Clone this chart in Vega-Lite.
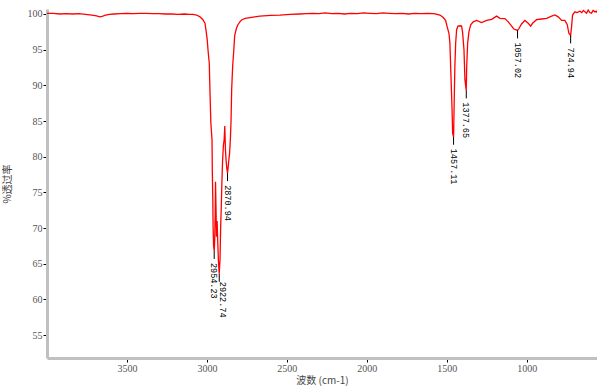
{
  "$schema": "https://vega.github.io/schema/vega-lite/v6.json",
  "width": 550,
  "height": 349,
  "autosize": {"type": "none"},
  "padding": {"left": 47, "top": 9, "right": 0, "bottom": 29},
  "config": {
    "view": {"stroke": null},
    "axis": {
      "grid": false,
      "domainColor": "#c0c0c0",
      "domainWidth": 3,
      "tickColor": "#000000",
      "tickWidth": 1,
      "labelFont": "Liberation Serif",
      "labelFontSize": 10,
      "labelColor": "#555555",
      "labelOverlap": false,
      "titleFont": "Noto Sans CJK SC",
      "titleFontSize": 10,
      "titleFontWeight": "normal",
      "titleColor": "#444444"
    }
  },
  "datasets": {
    "spectrum": [
      {"wn": 4000, "T": 100.1}, {"wn": 3960, "T": 100.1}, {"wn": 3920, "T": 100.0}, {"wn": 3880, "T": 100.05},
      {"wn": 3840, "T": 100.0}, {"wn": 3800, "T": 100.05}, {"wn": 3760, "T": 99.95}, {"wn": 3720, "T": 99.85},
      {"wn": 3690, "T": 99.75}, {"wn": 3670, "T": 99.6}, {"wn": 3655, "T": 99.65}, {"wn": 3640, "T": 99.8},
      {"wn": 3610, "T": 99.95}, {"wn": 3580, "T": 100.0}, {"wn": 3540, "T": 100.05}, {"wn": 3500, "T": 100.1},
      {"wn": 3460, "T": 100.05}, {"wn": 3420, "T": 100.1}, {"wn": 3380, "T": 100.1}, {"wn": 3340, "T": 100.05},
      {"wn": 3300, "T": 100.05}, {"wn": 3260, "T": 100.0}, {"wn": 3220, "T": 100.0}, {"wn": 3180, "T": 99.95},
      {"wn": 3140, "T": 100.0}, {"wn": 3110, "T": 99.95}, {"wn": 3087, "T": 99.96}, {"wn": 3064, "T": 99.86},
      {"wn": 3043, "T": 99.6}, {"wn": 3025, "T": 99.2}, {"wn": 3012, "T": 98.7}, {"wn": 3006, "T": 97.8},
      {"wn": 2998, "T": 96.4}, {"wn": 2992, "T": 94.7}, {"wn": 2985, "T": 93.1}, {"wn": 2981, "T": 89.4},
      {"wn": 2975, "T": 84.7}, {"wn": 2968, "T": 82.4}, {"wn": 2966, "T": 78.0}, {"wn": 2963, "T": 74.0},
      {"wn": 2961, "T": 70.0}, {"wn": 2958, "T": 67.5}, {"wn": 2954, "T": 66.8}, {"wn": 2951, "T": 68.5},
      {"wn": 2948, "T": 72.0}, {"wn": 2946, "T": 76.5}, {"wn": 2943, "T": 73.0}, {"wn": 2940, "T": 68.8},
      {"wn": 2936, "T": 71.0}, {"wn": 2932, "T": 68.0}, {"wn": 2928, "T": 65.5}, {"wn": 2923, "T": 63.6},
      {"wn": 2918, "T": 65.5}, {"wn": 2914, "T": 70.0}, {"wn": 2910, "T": 73.0}, {"wn": 2906, "T": 76.5},
      {"wn": 2902, "T": 79.3}, {"wn": 2897, "T": 81.5}, {"wn": 2892, "T": 82.4}, {"wn": 2888, "T": 84.3},
      {"wn": 2884, "T": 81.0}, {"wn": 2880, "T": 79.5}, {"wn": 2876, "T": 78.5}, {"wn": 2871, "T": 77.7},
      {"wn": 2867, "T": 78.5}, {"wn": 2863, "T": 79.5}, {"wn": 2858, "T": 80.5}, {"wn": 2853, "T": 82.5},
      {"wn": 2849, "T": 85.0}, {"wn": 2845, "T": 89.4}, {"wn": 2839, "T": 92.6}, {"wn": 2833, "T": 94.5},
      {"wn": 2826, "T": 97.0}, {"wn": 2815, "T": 98.0}, {"wn": 2806, "T": 98.5}, {"wn": 2790, "T": 99.0},
      {"wn": 2781, "T": 99.2}, {"wn": 2760, "T": 99.4}, {"wn": 2731, "T": 99.5}, {"wn": 2700, "T": 99.6},
      {"wn": 2669, "T": 99.7}, {"wn": 2600, "T": 99.8}, {"wn": 2544, "T": 99.85}, {"wn": 2480, "T": 99.95},
      {"wn": 2419, "T": 100.0}, {"wn": 2380, "T": 100.05}, {"wn": 2340, "T": 100.1}, {"wn": 2300, "T": 100.05},
      {"wn": 2260, "T": 100.15}, {"wn": 2220, "T": 100.05}, {"wn": 2180, "T": 100.1}, {"wn": 2140, "T": 100.0},
      {"wn": 2100, "T": 100.1}, {"wn": 2060, "T": 100.05}, {"wn": 2020, "T": 100.15}, {"wn": 1980, "T": 100.1},
      {"wn": 1940, "T": 100.05}, {"wn": 1900, "T": 100.15}, {"wn": 1860, "T": 100.1}, {"wn": 1820, "T": 100.05},
      {"wn": 1780, "T": 100.1}, {"wn": 1740, "T": 100.0}, {"wn": 1700, "T": 100.1}, {"wn": 1660, "T": 100.05},
      {"wn": 1620, "T": 100.1}, {"wn": 1580, "T": 100.05}, {"wn": 1542, "T": 99.86}, {"wn": 1522, "T": 99.5},
      {"wn": 1507, "T": 99.1}, {"wn": 1497, "T": 98.2}, {"wn": 1486, "T": 97.3}, {"wn": 1480, "T": 95.9},
      {"wn": 1474, "T": 91.7}, {"wn": 1467, "T": 87.0}, {"wn": 1463, "T": 83.3}, {"wn": 1457, "T": 82.8},
      {"wn": 1453, "T": 88.0}, {"wn": 1449, "T": 92.6}, {"wn": 1444, "T": 95.9}, {"wn": 1438, "T": 97.8},
      {"wn": 1430, "T": 98.3}, {"wn": 1415, "T": 98.35}, {"wn": 1407, "T": 98.3}, {"wn": 1401, "T": 97.5},
      {"wn": 1392, "T": 95.0}, {"wn": 1386, "T": 90.8}, {"wn": 1378, "T": 89.3}, {"wn": 1375, "T": 92.6},
      {"wn": 1369, "T": 95.9}, {"wn": 1361, "T": 97.5}, {"wn": 1350, "T": 98.5}, {"wn": 1334, "T": 98.9},
      {"wn": 1313, "T": 99.1}, {"wn": 1282, "T": 98.8}, {"wn": 1250, "T": 99.1}, {"wn": 1219, "T": 99.25},
      {"wn": 1188, "T": 99.7}, {"wn": 1167, "T": 99.4}, {"wn": 1136, "T": 99.35}, {"wn": 1115, "T": 98.9},
      {"wn": 1094, "T": 98.3}, {"wn": 1080, "T": 97.9}, {"wn": 1057, "T": 97.7}, {"wn": 1047, "T": 98.0},
      {"wn": 1032, "T": 98.6}, {"wn": 1011, "T": 99.1}, {"wn": 990, "T": 98.7}, {"wn": 975, "T": 98.3},
      {"wn": 963, "T": 98.7}, {"wn": 938, "T": 99.2}, {"wn": 907, "T": 99.3}, {"wn": 875, "T": 99.4},
      {"wn": 844, "T": 99.7}, {"wn": 823, "T": 99.86}, {"wn": 803, "T": 99.6}, {"wn": 781, "T": 99.1},
      {"wn": 761, "T": 99.1}, {"wn": 746, "T": 98.5}, {"wn": 736, "T": 97.3}, {"wn": 725, "T": 97.0},
      {"wn": 719, "T": 98.2}, {"wn": 713, "T": 99.86}, {"wn": 698, "T": 100.3}, {"wn": 685, "T": 100.2},
      {"wn": 667, "T": 100.4}, {"wn": 655, "T": 100.2}, {"wn": 645, "T": 100.5}, {"wn": 636, "T": 100.3},
      {"wn": 625, "T": 100.1}, {"wn": 615, "T": 100.55}, {"wn": 605, "T": 100.2}, {"wn": 594, "T": 100.1},
      {"wn": 585, "T": 100.5}, {"wn": 573, "T": 100.3}, {"wn": 565, "T": 100.4}, {"wn": 560, "T": 100.2}
    ],
    "peaks": [
      {"wn": 2954.23, "T": 66.8, "label": "2954.23"},
      {"wn": 2922.74, "T": 63.6, "label": "2922.74"},
      {"wn": 2870.94, "T": 77.7, "label": "2870.94"},
      {"wn": 1457.11, "T": 82.8, "label": "1457.11"},
      {"wn": 1377.65, "T": 89.3, "label": "1377.65"},
      {"wn": 1057.02, "T": 97.7, "label": "1057.02"},
      {"wn": 724.94, "T": 97.0, "label": "724.94"}
    ]
  },
  "encoding": {
    "x": {
      "field": "wn",
      "type": "quantitative",
      "scale": {"domain": [560, 4000], "reverse": true, "nice": false, "zero": false},
      "axis": {
        "title": "波数 (cm-1)",
        "values": [600, 700, 800, 900, 1000, 1100, 1200, 1300, 1400, 1500, 1600, 1700, 1800, 1900, 2000, 2100, 2200, 2300, 2400, 2500, 2600, 2700, 2800, 2900, 3000, 3100, 3200, 3300, 3400, 3500, 3600, 3700, 3800, 3900],
        "format": "d",
        "labelExpr": "datum.value % 500 === 0 ? datum.label : ''",
        "tickSize": {"condition": {"test": "datum.value % 500 === 0", "value": 4}, "value": 1},
        "labelPadding": 1,
        "titlePadding": 2
      }
    },
    "y": {
      "field": "T",
      "type": "quantitative",
      "scale": {"domain": [51.8, 100.7], "nice": false, "zero": false},
      "axis": {
        "title": "%透过率",
        "values": [52, 53, 54, 55, 56, 57, 58, 59, 60, 61, 62, 63, 64, 65, 66, 67, 68, 69, 70, 71, 72, 73, 74, 75, 76, 77, 78, 79, 80, 81, 82, 83, 84, 85, 86, 87, 88, 89, 90, 91, 92, 93, 94, 95, 96, 97, 98, 99, 100],
        "labelExpr": "datum.value % 5 === 0 ? datum.label : ''",
        "tickSize": {"condition": {"test": "datum.value % 5 === 0", "value": 4}, "value": 1},
        "labelPadding": 1,
        "titlePadding": 15
      }
    }
  },
  "layer": [
    {
      "data": {"name": "spectrum"},
      "mark": {"type": "line", "color": "#ff0000", "strokeWidth": 1.3, "clip": true}
    },
    {
      "data": {"name": "peaks"},
      "mark": {"type": "rule", "color": "#000000", "strokeWidth": 1, "y2Offset": 8},
      "encoding": {"y2": {"field": "T"}}
    },
    {
      "data": {"name": "peaks"},
      "transform": [{"filter": "datum.label !== '2922.74'"}],
      "mark": {"type": "text", "angle": 90, "align": "left", "baseline": "middle", "dx": 12, "font": "Liberation Mono", "fontSize": 8.5, "color": "#000000"},
      "encoding": {"text": {"field": "label"}}
    },
    {
      "data": {"name": "peaks"},
      "transform": [{"filter": "datum.label === '2922.74'"}],
      "mark": {"type": "text", "angle": 90, "align": "left", "baseline": "middle", "dx": 8, "dy": -4, "font": "Liberation Mono", "fontSize": 8.5, "color": "#000000"},
      "encoding": {"text": {"field": "label"}}
    }
  ]
}
